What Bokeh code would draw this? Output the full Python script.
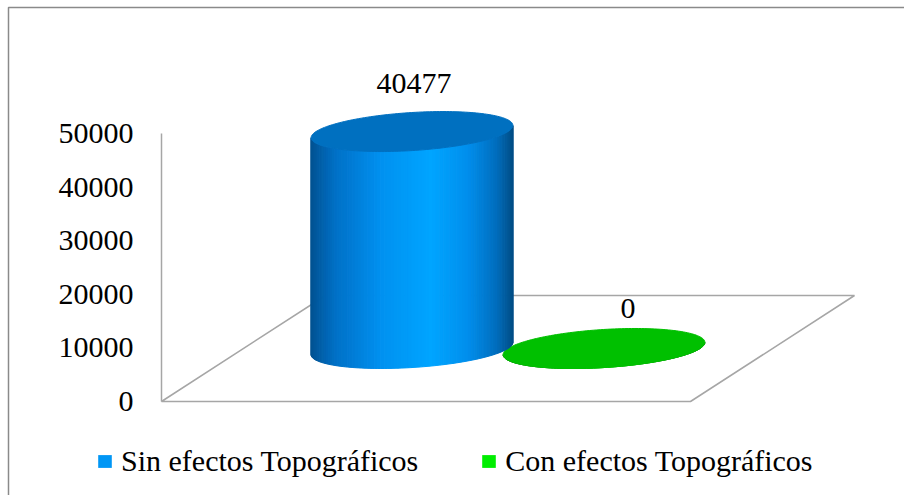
import numpy as np
from bokeh.plotting import figure
from bokeh.models import Range1d, LinearAxis, FixedTicker, Legend, LegendItem, ColumnDataSource
from bokeh.core.properties import value
from bokeh.embed import file_html
from bokeh.resources import INLINE

# ---------------- data ----------------
series = ["Sin efectos Topográficos", "Con efectos Topográficos"]
values = [40477, 0]
value_labels = ["40477", "0"]
tick_values = [0, 10000, 20000, 30000, 40000, 50000]
tick_labels = ["0", "10000", "20000", "30000", "40000", "50000"]

# ---------------- styling / layout ----------------
W, H = 904, 495
FONT = "Liberation Serif"
FONT_SIZE = "30px"
Y0_PX = 94                      # pixels from bottom where value 0 sits (front edge)
PX_PER_UNIT = 268 / 50000       # vertical scale
FLOOR_X0, FLOOR_X1 = 161, 690   # front edge of the floor
DEPTH_PX = (164, 106)           # depth vector of the floor (screen px)
SLOT = 192                      # distance between series
RADIUS_X = 96
ELL_K = 0.1887                  # depth radius as fraction of depth vector
top_colors = ["#0070c0", "#00c000"]
legend_colors = ["#0096f5", "#00ee00"]
grad_stops = [
    [(0.0, (0, 82, 145)), (0.12, (0, 112, 198)), (0.35, (0, 145, 240)), (0.6, (0, 165, 255)),
     (0.78, (0, 142, 236)), (0.92, (0, 110, 190)), (1.0, (0, 78, 135))],
    [(0.0, (0, 120, 0)), (0.5, (0, 200, 0)), (1.0, (0, 120, 0))],
]
LABEL_DX = [2, 24]
LABEL_DY = [-28, -20]
GRID_COLOR = "#a6a6a6"

ymin = -Y0_PX / PX_PER_UNIT
ymax = (H - Y0_PX) / PX_PER_UNIT

p = figure(width=W, height=H, output_backend="svg", toolbar_location=None,
           x_range=Range1d(0, W), y_range=Range1d(ymin, ymax),
           x_axis_location=None, y_axis_location=None,
           min_border=0, min_border_left=0, min_border_right=0,
           min_border_top=0, min_border_bottom=0)
p.outline_line_color = None
p.xgrid.visible = False
p.ygrid.visible = False
p.background_fill_color = "white"

# chart area border (left and top edges visible)
top_border = ymax - 7 / PX_PER_UNIT
p.line(x=[8, 8, W], y=[ymin, top_border, top_border], line_color="#8a8a8a", line_width=1.5)

ddx = DEPTH_PX[0]
ddy = DEPTH_PX[1] / PX_PER_UNIT

# floor
p.patch(x=[FLOOR_X0, FLOOR_X1, FLOOR_X1 + ddx, FLOOR_X0 + ddx],
        y=[0, 0, ddy, ddy], fill_color="white", line_color=GRID_COLOR, line_width=1.5)

# value axis
ax = LinearAxis(fixed_location=FLOOR_X0)
ax.ticker = FixedTicker(ticks=tick_values)
ax.major_label_overrides = {v: s for v, s in zip(tick_values, tick_labels)}
ax.bounds = (tick_values[0], tick_values[-1])
ax.axis_line_color = GRID_COLOR
ax.axis_line_width = 1.5
ax.major_tick_line_color = None
ax.minor_tick_line_color = None
ax.major_tick_out = 0
ax.major_tick_in = 0
ax.minor_tick_out = 0
ax.major_label_standoff = 28
ax.major_label_text_font = FONT
ax.major_label_text_font_size = FONT_SIZE
ax.major_label_text_color = "black"
p.add_layout(ax, "left")


def shade(stops, u):
    for (u0, c0), (u1, c1) in zip(stops[:-1], stops[1:]):
        if u <= u1:
            f = (u - u0) / (u1 - u0) if u1 > u0 else 0
            c = [int(round(a + (b - a) * f)) for a, b in zip(c0, c1)]
            return "#%02x%02x%02x" % tuple(c)
    return "#%02x%02x%02x" % stops[-1][1]


n = len(values)
cat_center = (FLOOR_X0 + FLOOR_X1) / 2
a = RADIUS_X
bx = ELL_K * ddx
by = ELL_K * ddy
t_r = np.arctan2(bx, a)
N = 90

centers = []
tops = []
legend_renderers = []
for j in range(n):
    cx = cat_center + (j - (n - 1) / 2) * SLOT + ddx / 2
    centers.append(cx)
    base = ddy / 2
    tops.append(base + values[j])

for j in reversed(range(n)):
    cx = centers[j]
    base = ddy / 2
    top = tops[j]
    t = np.linspace(t_r + np.pi, t_r + 2 * np.pi, N + 1)
    X = cx + a * np.cos(t) + bx * np.sin(t)
    Yb = base + by * np.sin(t)
    Yt = top + by * np.sin(t)
    xmin, xmax = X.min(), X.max()
    xs, ys, cols = [], [], []
    for i in range(N):
        xs.append([X[i], X[i + 1], X[i + 1], X[i]])
        ys.append([Yb[i], Yb[i + 1], Yt[i + 1], Yt[i]])
        u = ((X[i] + X[i + 1]) / 2 - xmin) / (xmax - xmin)
        cols.append(shade(grad_stops[j], u))
    src = ColumnDataSource(dict(xs=xs, ys=ys, c=cols))
    p.patches("xs", "ys", source=src, fill_color="c", line_color="c", line_width=1)
    tt = np.linspace(0, 2 * np.pi, 181)
    p.patch(x=cx + a * np.cos(tt) + bx * np.sin(tt), y=top + by * np.sin(tt),
            fill_color=top_colors[j], line_color=top_colors[j], line_width=1)

for j in range(n):
    r = p.quad(left=[centers[j] - a], right=[centers[j] + a], bottom=[ddy / 2],
               top=[tops[j]], fill_color=legend_colors[j], line_color=None, visible=False)
    legend_renderers.append(r)

# value labels
lab_src = ColumnDataSource(dict(
    x=[c + dx for c, dx in zip(centers, LABEL_DX)],
    y=[t + by for t in tops],
    text=value_labels,
    yo=LABEL_DY,
))
p.text(x="x", y="y", text="text", source=lab_src, y_offset="yo",
       text_font=value(FONT), text_font_size=FONT_SIZE, text_align="center",
       text_baseline="middle", text_color="black")

legend = Legend(items=[LegendItem(label=series[j], renderers=[legend_renderers[j]]) for j in range(n)],
                orientation="horizontal", location=(96, 17),
                label_text_font=FONT, label_text_font_size=FONT_SIZE, label_text_color="black",
                glyph_width=17, glyph_height=16, label_standoff=8, spacing=62,
                padding=0, margin=0, border_line_color=None, background_fill_alpha=0)
p.add_layout(legend)

open("out.html", "w").write(file_html(p, INLINE))
